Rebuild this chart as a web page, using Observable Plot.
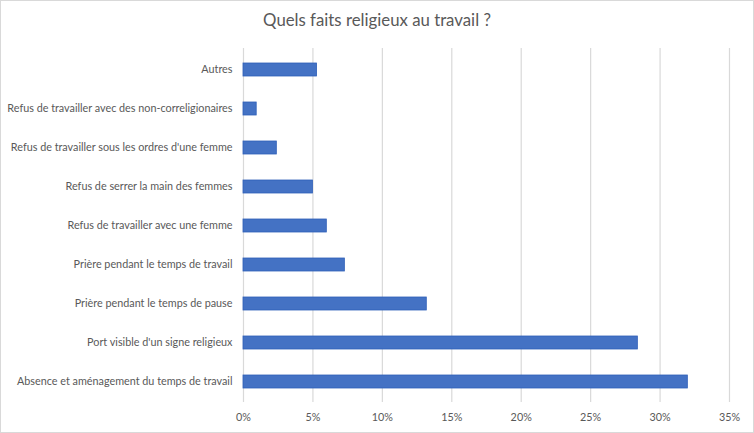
<!DOCTYPE html>
<html>
<head>
<meta charset="utf-8">
<script src="https://cdn.jsdelivr.net/npm/d3@7"></script>
<script src="https://cdn.jsdelivr.net/npm/@observablehq/plot@0.6"></script>
<style>
  html, body { margin: 0; padding: 0; background: #fff; }
  #wrap { position: relative; width: 754px; height: 433px; overflow: hidden; font-family: Lato, "Noto Sans", sans-serif; }
  #title { position: absolute; left: 0; width: 754px; top: 9px; text-align: center; font-size: 16.8px; color: #595959; }
  #frame { position: absolute; left: 0; top: 0; width: 752px; height: 431px; border: 1px solid #d9d9d9; pointer-events: none; }
  svg { display: block; }
</style>
</head>
<body>
<div id="wrap">
  <div id="chart"></div>
  <div id="title">Quels faits religieux au travail ?</div>
  <div id="frame"></div>
</div>
<script>
const categories = [
  "Autres",
  "Refus de travailler avec des non-correligionaires",
  "Refus de travailler sous les ordres d'une femme",
  "Refus de serrer la main des femmes",
  "Refus de travailler avec une femme",
  "Prière pendant le temps de travail",
  "Prière pendant le temps de pause",
  "Port visible d'un signe religieux",
  "Absence et aménagement du temps de travail"
];
const values = [5.3, 0.95, 2.4, 5.0, 6.0, 7.3, 13.2, 28.4, 32.0];
const xTicks = [0, 5, 10, 15, 20, 25, 30, 35];

const data = categories.map((c, i) => ({category: c, value: values[i]}));

const chart = Plot.plot({
  width: 754,
  height: 433,
  marginLeft: 243,
  marginRight: 25,
  marginTop: 48,
  marginBottom: 31,
  style: {fontFamily: "Lato, 'Noto Sans', sans-serif", fontSize: "10.8px", color: "#595959", background: "#fff"},
  x: {domain: [0, 35], ticks: xTicks},
  y: {domain: categories, paddingInner: 0.67, paddingOuter: 0.335},
  marks: [
    Plot.ruleX(xTicks, {stroke: "#d9d9d9", strokeWidth: 1.2}),
    Plot.barX(data, {x: "value", y: "category", fill: "#4472C4", stroke: "#2f5fb8", strokeWidth: 0.8}),
    Plot.axisX({ticks: xTicks, tickSize: 0, tickPadding: 11, tickFormat: d => d + "%", fill: "#595959", label: null}),
    Plot.axisY({tickSize: 0, tickPadding: 11, fill: "#595959", label: null})
  ]
});
document.getElementById("chart").appendChild(chart);
</script>
</body>
</html>
